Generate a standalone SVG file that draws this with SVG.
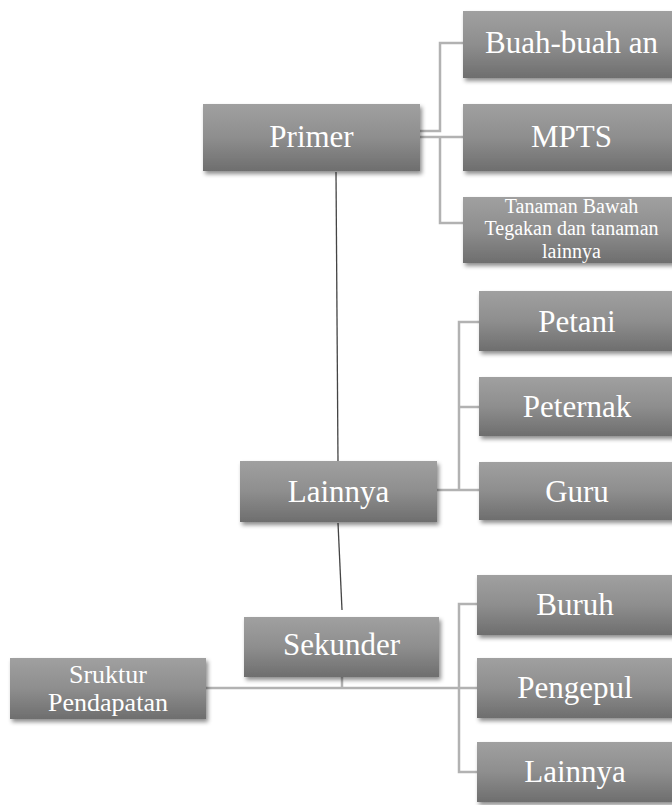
<svg xmlns="http://www.w3.org/2000/svg" width="672" height="805" viewBox="0 0 672 805">
<defs>
<linearGradient id="g" x1="0" y1="0" x2="0" y2="1">
<stop offset="0" stop-color="#a0a0a0"/>
<stop offset="0.5" stop-color="#8e8e8e"/>
<stop offset="1" stop-color="#6e6e6e"/>
</linearGradient>
<filter id="sh" x="-10%" y="-10%" width="130%" height="140%">
<feDropShadow dx="2" dy="3" stdDeviation="2" flood-color="#000" flood-opacity="0.45"/>
</filter>
</defs>
<style>
.box{fill:url(#g);filter:url(#sh);}
.t{font-family:"Liberation Serif","Times New Roman",serif;fill:#fff;text-anchor:middle;font-size:31px;}
.s{font-size:20px;}
.m{font-size:26px;}
.c{fill:none;stroke:#b2b2b2;stroke-width:2.5;}
.d{fill:none;stroke:#444;stroke-width:1.3;}
</style>
<rect width="672" height="805" fill="#fff"/>
<g id="connectors">
<path class="c" d="M420,131 H440 V43 H463"/>
<path class="c" d="M420,137 H463"/>
<path class="c" d="M440,137 V223 H463"/>
<path class="c" d="M437,490 H479"/>
<path class="c" d="M459,490 V322 H479"/>
<path class="c" d="M459,407 H479"/>
<path class="c" d="M206,688 H477"/>
<path class="c" d="M459,688 V604 H477"/>
<path class="c" d="M459,688 V772 H477"/>
<path class="c" d="M342,677 V688"/>
<path class="d" d="M336,172 L338,462"/>
<path class="d" d="M338,523 L342,610"/>
</g>
<g id="primer"><rect class="box" x="203" y="104" width="217" height="67"/><text class="t" x="311.5" y="147">Primer</text></g>
<g id="buah"><rect class="box" x="463" y="11" width="217" height="67"/><text class="t" x="571.5" y="53">Buah-buah an</text></g>
<g id="mpts"><rect class="box" x="463" y="104" width="217" height="67"/><text class="t" x="571.5" y="147">MPTS</text></g>
<g id="tanaman"><rect class="box" x="463" y="197" width="217" height="66"/><text class="t s" x="571.5" y="213">Tanaman Bawah</text><text class="t s" x="571.5" y="235.3">Tegakan dan tanaman</text><text class="t s" x="571.5" y="257.6">lainnya</text></g>
<g id="lainnya1"><rect class="box" x="240" y="461" width="197" height="61"/><text class="t" x="338.5" y="502">Lainnya</text></g>
<g id="petani"><rect class="box" x="479" y="291" width="197" height="60"/><text class="t" x="577" y="332">Petani</text></g>
<g id="peternak"><rect class="box" x="479" y="377" width="197" height="59"/><text class="t" x="577" y="417">Peternak</text></g>
<g id="guru"><rect class="box" x="479" y="462" width="197" height="58"/><text class="t" x="577" y="502">Guru</text></g>
<g id="sekunder"><rect class="box" x="244" y="617" width="195" height="60"/><text class="t" x="341.5" y="655">Sekunder</text></g>
<g id="struktur"><rect class="box" x="10" y="658" width="196" height="61"/><text class="t m" x="108" y="683">Sruktur</text><text class="t m" x="108" y="711">Pendapatan</text></g>
<g id="buruh"><rect class="box" x="477" y="575" width="197" height="60"/><text class="t" x="575" y="615">Buruh</text></g>
<g id="pengepul"><rect class="box" x="477" y="658" width="197" height="60"/><text class="t" x="575" y="698">Pengepul</text></g>
<g id="lainnya2"><rect class="box" x="477" y="742" width="197" height="60"/><text class="t" x="575" y="782">Lainnya</text></g>
</svg>
